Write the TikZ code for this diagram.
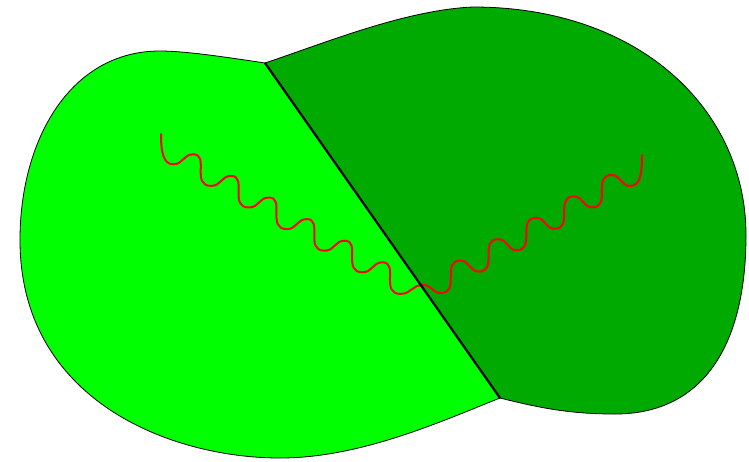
\documentclass[tikz,border=0pt]{standalone}
\definecolor{lightgrn}{RGB}{0,255,0}
\definecolor{darkgrn}{RGB}{0,170,0}
\definecolor{wavered}{RGB}{255,0,0}
\begin{document}
\begin{tikzpicture}[x=1pt,y=-1pt,
  outline/.style={draw=black,line width=0.8pt},
  divider/.style={draw=black,line width=2.2pt},
  wave/.style={draw=wavered,line width=2pt,line join=round,line cap=round}]
\useasboundingbox (0,0) rectangle (749,461);
\coordinate (T) at (265,63);
\coordinate (B) at (500,398);
\coordinate (A) at (161,134);
\coordinate (J) at (423,285);
\coordinate (E) at (642,155);
% troughs and crests of the wavy line
\foreach \j in {1,...,7}
  \coordinate (L\j) at ({173.3+37.85*(\j-1)},{164.3+21.6*(\j-1)});
\foreach \j in {1,...,6}
  \coordinate (U\j) at ({193.3+37.85*(\j-1)},{154.3+21.6*(\j-1)});
\foreach \k in {1,...,6}
  \coordinate (R\k) at ({441+37.8*(\k-1)},{293-21.4*(\k-1)});
\foreach \k in {1,...,5}
  \coordinate (V\k) at ({460.5+37.8*(\k-1)},{260.6-21.4*(\k-1)});
\path[fill=lightgrn,outline] (T) .. controls (225,57) and (185,51) .. (160,51)
  .. controls (70,51) and (20,140) .. (20,240)
  .. controls (20,400) and (170,458) .. (280,458)
  .. controls (360,458) and (440,422) .. (B) -- cycle;
\path[fill=darkgrn,outline] (T) .. controls (325,43) and (405,10) .. (473,7)
  .. controls (640,7) and (746,110) .. (746,235)
  .. controls (746,350) and (700,414) .. (615,414)
  .. controls (570,414) and (540,408) .. (B) -- cycle;
\draw[wave] (A) .. controls +(0,18) and +(-10,0) .. (L1)
  \foreach \j/\k in {1/2,2/3,3/4,4/5,5/6,6/7}
    { .. controls +(10,0) and +(-10,0) .. (U\j)
      .. controls +(16.4,0) and +(-20.4,0) .. (L\k) }
  .. controls +(11,0) and +(-11,0) .. (J)
  .. controls +(9,0) and +(-9,0) .. (R1)
  \foreach \j/\k in {1/2,2/3,3/4,4/5,5/6}
    { .. controls +(19.5,0) and +(-19.5,0) .. (V\j)
      .. controls +(9,0) and +(-9,0) .. (R\k) }
  .. controls +(11,0) and +(0,17) .. (E);
\draw[divider] (T) -- (B);
\end{tikzpicture}
\end{document}
